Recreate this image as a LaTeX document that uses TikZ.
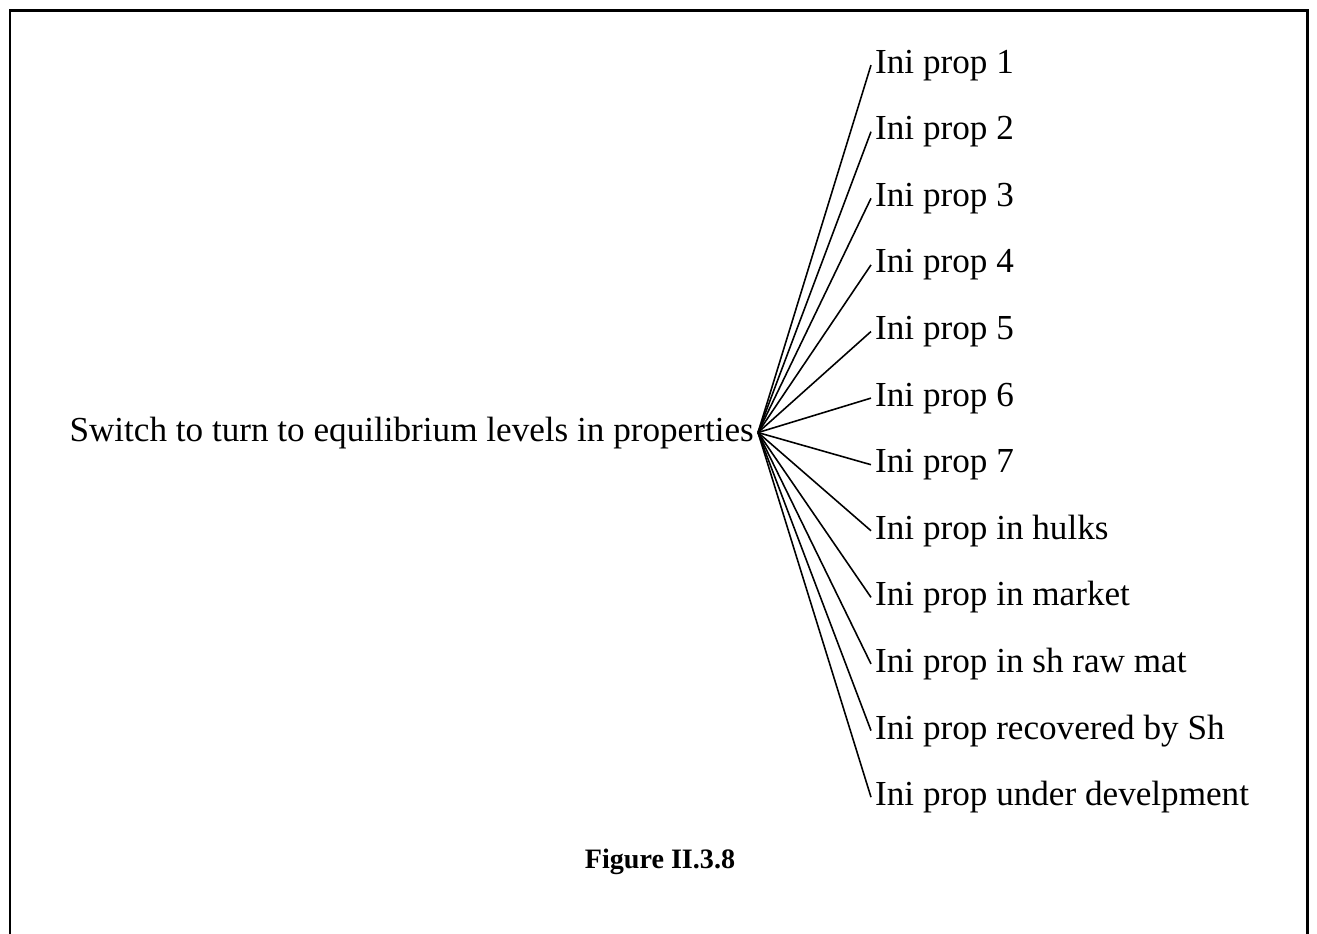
\documentclass[tikz,border=0pt]{standalone}
\usepackage{fontspec}
\setmainfont{Liberation Serif}
\usepackage{tikz}
\tikzset{
  frame/.style={line width=0.3mm,black},                 % open frame
  hub/.style={anchor=base east,inner xsep=1pt,inner ysep=0pt,font=\fontsize{10}{12}\selectfont},
  ini/.style={anchor=base west,inner xsep=1pt,inner ysep=0pt,font=\fontsize{10}{12}\selectfont},
  link/.style={black,line width=0.45pt},
  caption/.style={font=\fontsize{8}{10}\selectfont\bfseries},
}

\begin{document}
\begin{tikzpicture}[x=0.1mm,y=-0.1mm]
  \useasboundingbox (0,0) rectangle (1317,934);
  \draw[frame] (10,934) -- (10,10) -- (1307,10) -- (1307,934);
  \node[hub] (sw) at (758,441) {Switch to turn to equilibrium levels in properties};
  \foreach \lbl [count=\i] in {Ini prop 1,Ini prop 2,Ini prop 3,Ini prop 4,Ini prop 5,
      Ini prop 6,Ini prop 7,Ini prop in hulks,Ini prop in market,Ini prop in sh raw mat,
      Ini prop recovered by Sh,Ini prop under develpment}{
    \node[ini] (p\i) at (871,{73+(\i-1)*66.6}) {\lbl};
    \draw[link] (sw.east) -- (p\i.west);
  }
  \node[caption] (fig) at (660,862) {Figure II.3.8};
\end{tikzpicture}
\end{document}
